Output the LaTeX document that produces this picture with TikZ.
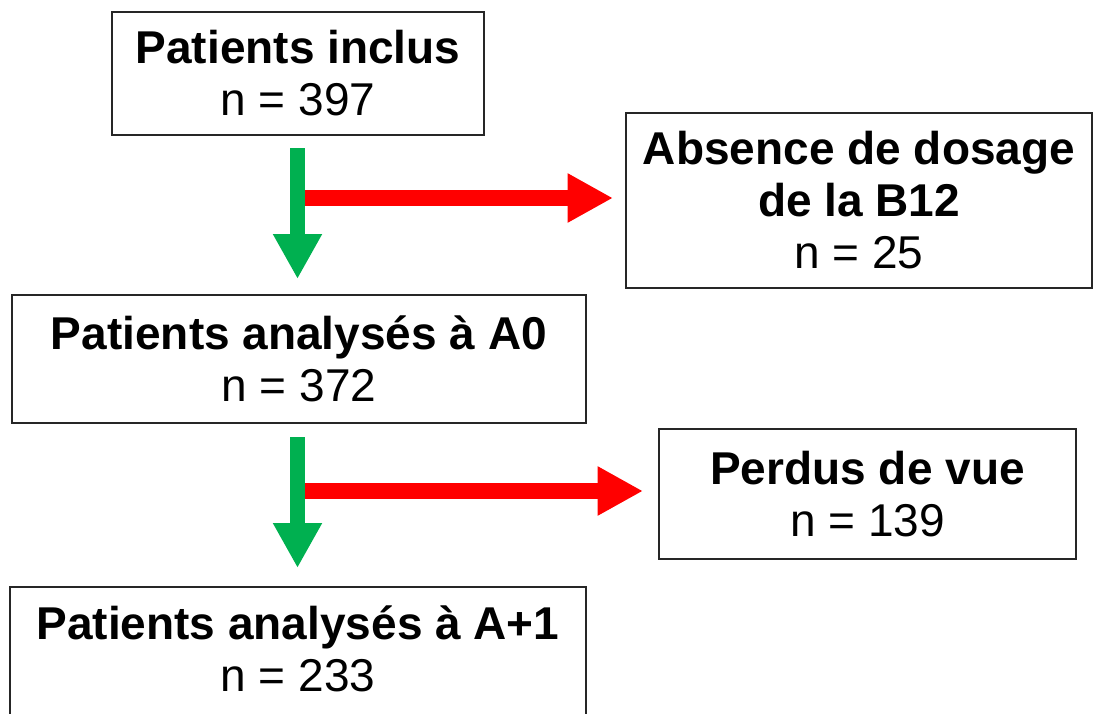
\documentclass[tikz,border=0pt]{standalone}
\usepackage{fontspec}
\setmainfont{Liberation Sans}
\usetikzlibrary{arrows.meta}
\definecolor{ogreen}{HTML}{00B050}
\definecolor{ored}{HTML}{FF0000}
\begin{document}
\begin{tikzpicture}[x=0.75pt,y=-0.75pt,
  box/.style={draw=black!85,line width=1.1pt,align=center,inner sep=0pt,
    font=\fontsize{34.5}{39}\selectfont},
  boxline/.style={draw=black!85,line width=1.1pt},
  plain/.style={align=center,inner sep=0pt,font=\fontsize{34.5}{39}\selectfont},
  garrow/.style={draw=ogreen,line width=11.25pt,-{Triangle[width=34.5pt,length=33.75pt]}},
  rarrow/.style={draw=ored,line width=12pt,-{Triangle[width=34.5pt,length=34pt]}}]
\useasboundingbox (0,0) rectangle (1094,713);
\node[box,minimum width=279pt,minimum height=92.25pt] (b1) at (298,73.5)
  {\textbf{Patients inclus}\\n = 397};
\node[box,minimum width=349.5pt,minimum height=131.25pt] (b2) at (859,200.5)
  {\textbf{Absence de dosage}\\\textbf{de la B12}\\n = 25};
\node[box,minimum width=430.5pt,minimum height=96pt] (b3) at (299,359)
  {\textbf{Patients analysés à A0}\\n = 372};
\node[box,minimum width=312.75pt,minimum height=97.5pt] (b4) at (867.5,494)
  {\textbf{Perdus de vue}\\n = 139};
\coordinate (b5nw) at (10,587);
\coordinate (b5se) at (586,745);
\draw[boxline] (b5nw) rectangle (b5se);
\node[plain] (b5) at (298,649) {\textbf{Patients analysés à A+1}\\n = 233};
% arrows
\coordinate (g1s) at (297.5,148);
\coordinate (g1e) at (297.5,279);
\coordinate (r1s) at (297.5,198);
\coordinate (r1e) at (613,198);
\coordinate (g2s) at (297.5,437);
\coordinate (g2e) at (297.5,568);
\coordinate (r2s) at (297.5,491);
\coordinate (r2e) at (643,491);
\draw[rarrow] (r1s) -- (r1e);
\draw[garrow] (g1s) -- (g1e);
\draw[rarrow] (r2s) -- (r2e);
\draw[garrow] (g2s) -- (g2e);
\end{tikzpicture}
\end{document}
